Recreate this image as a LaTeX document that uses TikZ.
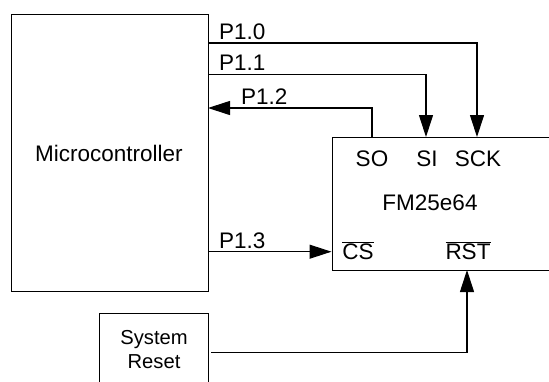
\documentclass[tikz,border=0pt]{standalone}
\usepackage{fontspec}
\setmainfont{Liberation Sans}
\usetikzlibrary{arrows.meta}
\begin{document}
\begin{tikzpicture}[x=1pt,y=-1pt,
  box/.style={draw,line width=1pt,inner sep=0pt},
  wire/.style={line width=1.1pt},
  tip/.style={-{Triangle[length=22pt,width=14pt]}},
  lbl/.style={inner sep=0pt,font=\fontsize{22.5}{26}\selectfont},
  small/.style={inner sep=0pt,font=\fontsize{20.2}{24}\selectfont}]
\useasboundingbox (0,0) rectangle (549,381);
\clip (0,0) rectangle (549,381);
% boxes
\node[box,minimum width=197pt,minimum height=277pt] (micro) at (109.5,152.5) {};
\node[box,minimum width=268pt,minimum height=133pt] (fm) at (466,203.5) {};
\node[box,minimum width=109pt,minimum height=73pt] (reset) at (153.5,349.5) {};
% texts
\node[lbl,anchor=base] (mtxt) at (109,161) {Microcontroller};
\node[lbl,anchor=base] (so) at (372,166.7) {SO};
\node[lbl,anchor=base] (si) at (427,166.7) {SI};
\node[lbl,anchor=base] (sck) at (478,166.7) {SCK};
\node[lbl,anchor=base] (fmtxt) at (430,210.7) {FM25e64};
\node[lbl,anchor=base] (cs) at (358,259) {$\overline{\mbox{CS}}$};
\node[lbl,anchor=base] (rst) at (468,259) {$\overline{\mbox{RST}}$};
\node[small,anchor=base] (sys1) at (154,344) {System};
\node[small,anchor=base] (sys2) at (154,368) {Reset};
\node[lbl,anchor=base west] (l0) at (219,39) {P1.0};
\node[lbl,anchor=base west] (l1) at (219,70.7) {P1.1};
\node[lbl,anchor=base west] (l2) at (241,104.3) {P1.2};
\node[lbl,anchor=base west] (l3) at (219,248.3) {P1.3};
% pin coordinates
\coordinate (sckpin) at (477,137);
\coordinate (sipin) at (426,137);
\coordinate (sopin) at (372,137);
\coordinate (rstpin) at (467,270);
\coordinate (o0) at (208,43);
\coordinate (o1) at (208,74.7);
\coordinate (i2) at (208,108);
\coordinate (o3) at (208,251.7);
\coordinate (rsrc) at (211,352.7);
% wires
\draw[wire,tip] (o0) -| (sckpin);
\draw[wire,tip] (o1) -| (sipin);
\draw[wire,tip] (sopin) |- (i2);
\draw[wire,tip] (o3) -- (fm.west |- o3);
\draw[wire,tip] (rsrc) -| (rstpin);
\end{tikzpicture}
\end{document}
